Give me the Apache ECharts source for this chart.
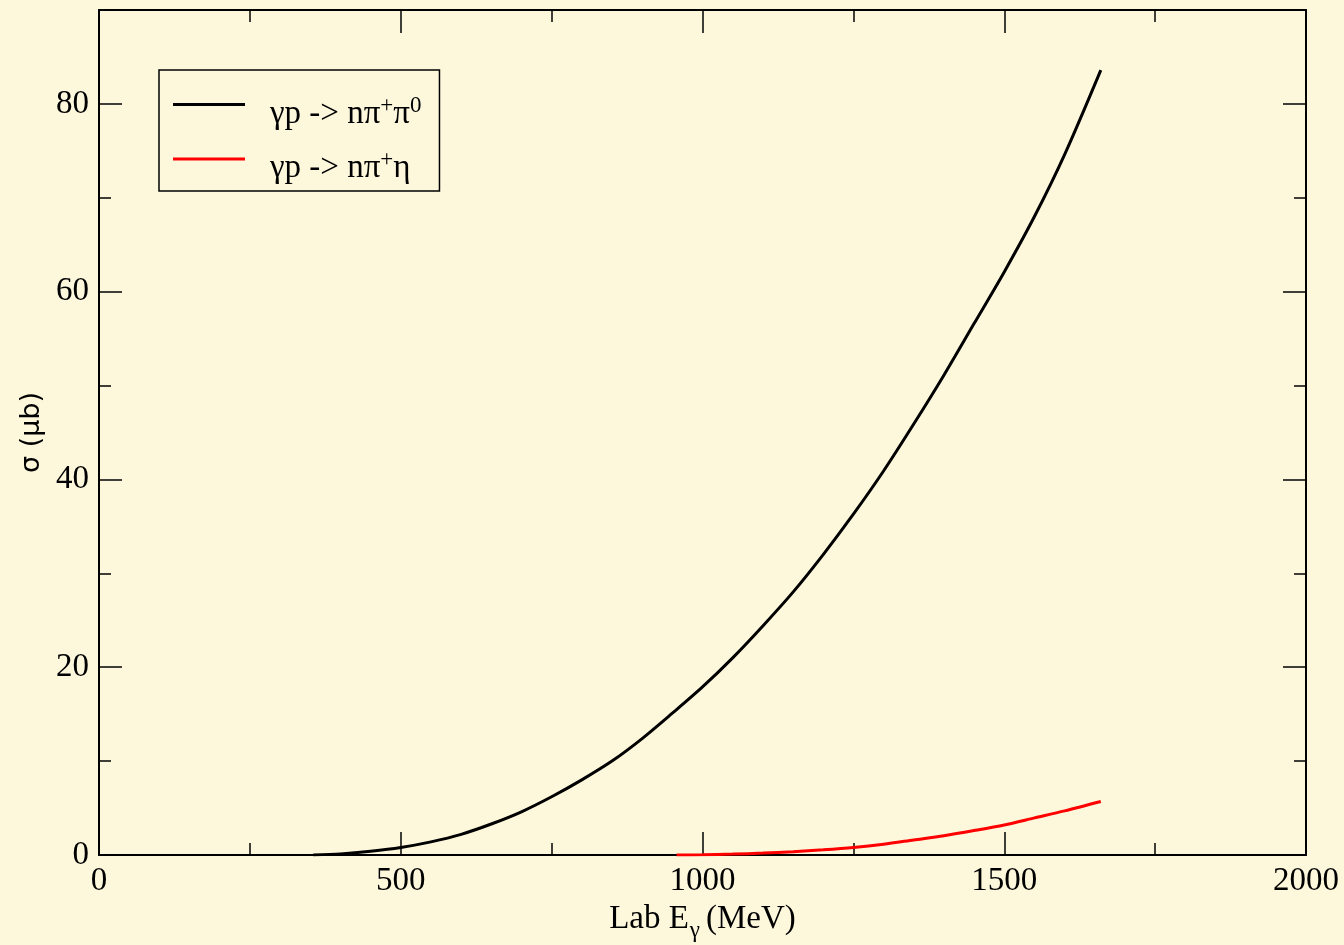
<!DOCTYPE html>
<html>
<head>
<meta charset="utf-8">
<script src="https://cdn.jsdelivr.net/npm/echarts@6/dist/echarts.min.js"></script>
<style>
  html, body { margin: 0; padding: 0; background: #fdf8dc; }
  #main { width: 1344px; height: 945px; }
</style>
</head>
<body>
<div id="main"></div>
<script>
// values: [E_gamma (MeV), sigma (ub)]
var pipi0 = [
  [355, 0], [400, 0.12], [450, 0.4], [500, 0.8], [550, 1.4], [600, 2.2],
  [650, 3.3], [700, 4.6], [750, 6.2], [800, 8.0], [850, 10.0], [900, 12.4],
  [950, 15.1], [1000, 17.9], [1050, 21.0], [1100, 24.4], [1150, 28.0],
  [1200, 32.0], [1250, 36.3], [1300, 40.9], [1350, 45.9], [1400, 51.1],
  [1450, 56.6], [1500, 62.1], [1550, 68.0], [1600, 74.6], [1660, 83.6]
];
var pieta = [
  [957, 0], [1000, 0.02], [1050, 0.1], [1100, 0.2], [1150, 0.35],
  [1200, 0.55], [1250, 0.8], [1300, 1.15], [1350, 1.6], [1400, 2.05],
  [1450, 2.6], [1500, 3.2], [1550, 3.95], [1600, 4.7], [1660, 5.7]
];
var names = ['γp -> nπ+π0', 'γp -> nπ+η'];

var font = 'Liberation Serif';
var myChart = echarts.init(document.getElementById('main'));

function axisBase(show) {
  return {
    axisLine: { show: true, onZero: false, lineStyle: { color: '#000', width: 2 } },
    axisTick: { show: true, inside: true, length: 23, lineStyle: { color: '#000', width: 1.5 } },
    minorTick: { show: true, splitNumber: 2, length: 12, lineStyle: { color: '#000', width: 1.5 } },
    splitLine: { show: false },
    axisLabel: {
      show: show, color: '#000', fontFamily: font, fontSize: 33, margin: 10,
      formatter: function (v) { return v > 80 && v < 100 ? '' : String(v); }
    }
  };
}

var option = {
  backgroundColor: '#fdf8dc',
  animation: false,
  grid: { left: 99, right: 38, top: 10, bottom: 90, outerBoundsMode: 'none' },
  legend: {
    orient: 'vertical',
    left: 159,
    top: 70,
    padding: [24, 18, 6, 14],
    itemGap: 18,
    itemWidth: 72,
    itemHeight: 3,
    icon: 'rect',
    borderColor: '#000',
    borderWidth: 1.5,
    backgroundColor: '#fdf8dc',
    data: names,
    formatter: function (n) {
      return n === names[0]
        ? '{a|γp -> nπ}{s|+}{a|π}{s|0}'
        : '{a|γp -> nπ}{s|+}{a|η}';
    },
    textStyle: {
      padding: [19, 0, 0, 20],
      rich: {
        a: { fontFamily: font, fontSize: 33, color: '#000', lineHeight: 40 },
        s: { fontFamily: font, fontSize: 23, color: '#000', lineHeight: 8, verticalAlign: 'top' }
      }
    }
  },
  xAxis: [
    Object.assign(axisBase(true), {
      type: 'value', min: 0, max: 2000, interval: 500, position: 'bottom',
      name: '{a|Lab E}{b|γ}{a|(MeV)}',
      nameLocation: 'middle', nameGap: 42,
      nameTextStyle: {
        rich: {
          a: { fontFamily: font, fontSize: 33, color: '#000' },
          b: { fontFamily: font, fontSize: 23, color: '#000', padding: [22, 6, 0, 1] }
        }
      }
    }),
    Object.assign(axisBase(false), {
      type: 'value', min: 0, max: 2000, interval: 500, position: 'top'
    })
  ],
  yAxis: [
    Object.assign(axisBase(true), {
      type: 'value', min: 0, max: 90, interval: 20, position: 'left',
      name: 'σ (μb)', nameLocation: 'middle', nameGap: 41,
      nameTextStyle: { fontFamily: 'DejaVu Sans', fontSize: 27, color: '#000' }
    }),
    Object.assign(axisBase(false), {
      type: 'value', min: 0, max: 90, interval: 20, position: 'right'
    })
  ],
  series: [
    {
      name: names[0], type: 'line', data: pipi0, smooth: 0.3,
      symbol: 'none', color: '#000', lineStyle: { width: 3, color: '#000' }
    },
    {
      name: names[1], type: 'line', data: pieta, smooth: 0.3,
      symbol: 'none', color: '#ff0000', lineStyle: { width: 3, color: '#ff0000' }
    }
  ]
};
myChart.setOption(option);
</script>
</body>
</html>
